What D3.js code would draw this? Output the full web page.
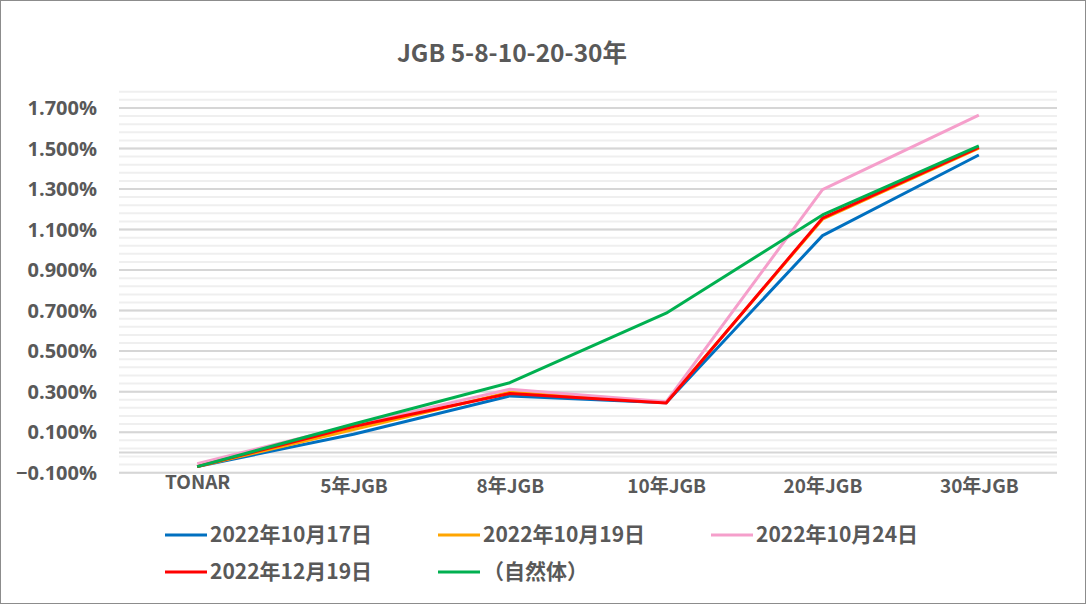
<!DOCTYPE html>
<html><head><meta charset="utf-8">
<script src="https://cdn.jsdelivr.net/npm/d3@7"></script>
<style>
html,body{margin:0;padding:0;background:#fff;}
svg{display:block;}
text{font-family:"Noto Sans CJK JP","Open Sans",sans-serif;font-weight:bold;fill:#595959;}
</style></head>
<body>
<svg id="c" width="1086" height="604"></svg>
<script>
const title = "JGB 5-8-10-20-30年";
const categories = ["TONAR","5年JGB","8年JGB","10年JGB","20年JGB","30年JGB"];
const seriesNames = ["2022年10月17日","2022年10月19日","2022年10月24日","2022年12月19日","（自然体）"];
const seriesColors = ["#0070C0","#FFA500","#F59FCB","#FF0000","#00B050"];
const s20221017 = [-0.07, 0.09, 0.279, 0.245, 1.07, 1.468];
const s20221019 = [-0.07, 0.113, 0.297, 0.247, 1.151, 1.502];
const s20221024 = [-0.055, 0.135, 0.312, 0.25, 1.297, 1.665];
const s20221219 = [-0.07, 0.128, 0.291, 0.244, 1.156, 1.506];
const sNatural  = [-0.07, 0.14, 0.344, 0.687, 1.172, 1.513];
const yTicks = [-0.1,0.1,0.3,0.5,0.7,0.9,1.1,1.3,1.5,1.7];
const yMin = -0.1, yMax = 1.8, minorStep = 0.04;

const seriesValues = [s20221017,s20221019,s20221024,s20221219,sNatural];
const svg = d3.select("#c");

svg.append("rect").attr("x",0.5).attr("y",0.5).attr("width",1085).attr("height",603)
  .attr("fill","#fff").attr("stroke","#8c8c8c").attr("stroke-width",1);

const pLeft=119, pRight=1057, pTop=87.7, pBottom=472.7;
const x = d3.scalePoint().domain(categories).range([pLeft,pRight]).padding(0.5);
const y = d3.scaleLinear().domain([yMin,yMax]).range([pBottom,pTop]);

// minor gridlines
const minor = d3.range(0, Math.floor((yMax-yMin)/minorStep)+1).map(i=>yMin+i*minorStep).filter(v=>v<=yMax);
svg.append("g").selectAll("line").data(minor).join("line")
  .attr("x1",pLeft).attr("x2",pRight)
  .attr("y1",d=>y(d)).attr("y2",d=>y(d))
  .attr("stroke","#efefef").attr("stroke-width",2);
// major gridlines
svg.append("g").selectAll("line").data(yTicks).join("line")
  .attr("x1",pLeft).attr("x2",pRight)
  .attr("y1",d=>y(d)).attr("y2",d=>y(d))
  .attr("stroke","#d6d6d6").attr("stroke-width",2);
// category axis line at 0
svg.append("line").attr("x1",pLeft).attr("x2",pRight).attr("y1",y(0)).attr("y2",y(0))
  .attr("stroke","#d6d6d6").attr("stroke-width",2);

// y axis labels
const yAxis = d3.axisLeft(y).tickValues(yTicks).tickSize(0).tickPadding(0)
  .tickFormat(d=>d3.format(".3f")(d)+"%");
const gy = svg.append("g").attr("transform",`translate(97,0)`).call(yAxis);
gy.select(".domain").remove();
gy.selectAll("text").attr("font-size",20)
  .style("font-family","'Open Sans',sans-serif").attr("fill","#595959").attr("dy","0.34em");

// x axis labels
const xAxis = d3.axisBottom(x).tickSize(0).tickPadding(0);
const gx = svg.append("g").attr("transform",`translate(0,${pBottom})`).call(xAxis);
gx.select(".domain").remove();
gx.selectAll("text").attr("font-size",19).attr("fill","#595959")
  .attr("y",d=>/[\u3000-\u9fff]/.test(d)?20:16).attr("dy","0");

// lines
const line = d3.line().x((d,i)=>x(categories[i])).y(d=>y(d));
svg.append("g").selectAll("path").data(seriesValues).join("path")
  .attr("d",d=>line(d)).attr("fill","none")
  .attr("stroke",(d,i)=>seriesColors[i]).attr("stroke-width",3)
  .attr("stroke-linejoin","round");

// title
svg.append("text").attr("x",512).attr("y",62).attr("text-anchor","middle")
  .attr("font-size",24.5).text(title);

// legend
const legPos = [[165,535],[438,535],[711,535],[165,572],[438,572]];
const lg = svg.append("g").selectAll("g").data(seriesNames).join("g")
  .attr("transform",(d,i)=>`translate(${legPos[i][0]},${legPos[i][1]})`);
lg.append("line").attr("x1",0).attr("x2",42).attr("y1",0).attr("y2",0)
  .attr("stroke",(d,i)=>seriesColors[i]).attr("stroke-width",3);
lg.append("text").attr("x",45).attr("y",0).attr("dy","0.35em").attr("font-size",21).text(d=>d);
</script>
</body></html>
